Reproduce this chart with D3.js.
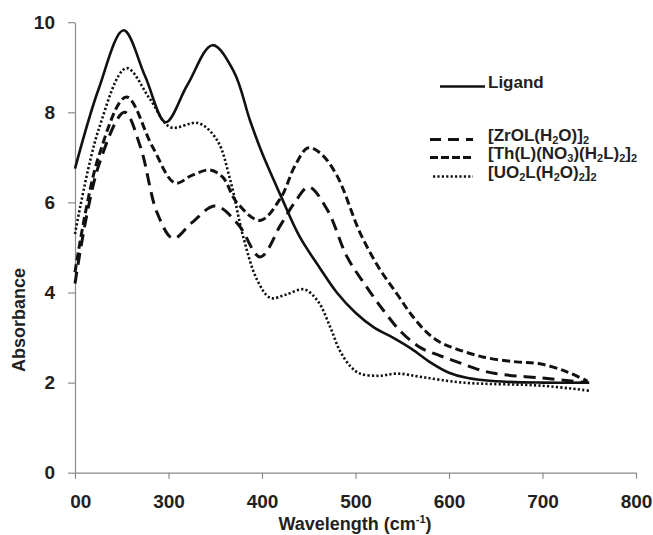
<!DOCTYPE html>
<html lang="en">
<head>
  <meta charset="UTF-8">
  <title>Absorbance spectra</title>
  <script src="https://d3js.org/d3.v7.min.js"></script>
  <style>
    * { margin: 0; padding: 0; box-sizing: border-box; }
    body { background: #fff; width: 653px; height: 535px; overflow: hidden; }
    svg { display: block; font-family: "Liberation Sans", Arial, sans-serif; }
    .tick text { font-size: 19px; font-weight: bold; fill: #231f20; }
    .axis path, .axis line { stroke: #8a8a8a; stroke-width: 1.2; }
    .lbl { font-size: 18px; font-weight: bold; fill: #231f20; }
    .leg { font-size: 17px; font-weight: bold; fill: #231f20; }
  </style>
</head>
<body>
  <svg id="chart" width="653" height="535"></svg>
  <script>
    // values (wavelength, absorbance)
    const ligandX = [200, 225, 252, 275, 297, 320, 347, 370, 387, 400, 420, 440, 462, 480, 500, 520, 540, 560, 580, 600, 620, 650, 700, 750];
    const ligandY = [6.75, 8.5, 9.82, 8.8, 7.78, 8.6, 9.49, 8.9, 7.83, 7.1, 6.15, 5.25, 4.54, 4.0, 3.55, 3.22, 3.0, 2.75, 2.45, 2.22, 2.1, 2.03, 2.0, 2.0];

    const zrX = [200, 225, 253, 270, 288, 305, 325, 350, 375, 398, 420, 435, 450, 470, 491, 512, 530, 550, 570, 590, 610, 630, 650, 700, 748];
    const zrY = [4.2, 6.8, 8.0, 7.23, 5.76, 5.2, 5.55, 5.92, 5.5, 4.79, 5.5, 6.0, 6.34, 5.83, 4.79, 4.12, 3.6, 3.1, 2.77, 2.6, 2.45, 2.3, 2.2, 2.1, 2.0];

    const thX = [200, 225, 255, 283, 307, 325, 344, 358, 373, 398, 420, 435, 449, 462, 480, 505, 525, 545, 560, 576, 590, 605, 636, 672, 697, 726, 748];
    const thY = [4.45, 7.0, 8.34, 7.23, 6.43, 6.6, 6.72, 6.56, 6.0, 5.6, 6.1, 6.8, 7.21, 7.1, 6.6, 5.32, 4.55, 3.95, 3.5, 3.12, 2.9, 2.77, 2.57, 2.46, 2.42, 2.24, 2.03];

    const uoX = [200, 225, 255, 280, 302, 332, 352, 366, 380, 395, 409, 425, 445, 460, 473, 483, 495, 505, 525, 545, 572, 615, 700, 750];
    const uoY = [5.3, 7.6, 8.98, 8.3, 7.67, 7.76, 7.38, 6.5, 5.23, 4.27, 3.88, 3.95, 4.07, 3.8, 3.23, 2.72, 2.35, 2.2, 2.15, 2.2, 2.12, 2.0, 1.93, 1.82];

    const xTicks = [200, 300, 400, 500, 600, 700, 800];
    const yTicks = [0, 2, 4, 6, 8, 10];

    const svg = d3.select("#chart");
    const plotL = 75, plotR = 636, plotT = 22.2, plotB = 472.7;

    const x = d3.scaleLinear().domain([200, 800]).range([plotL, plotR]);
    const y = d3.scaleLinear().domain([0, 10]).range([plotB, plotT]);

    // x axis, the first label is cut on the left like in the original
    svg.append("clipPath").attr("id", "xclip")
      .append("rect").attr("x", plotL - 4).attr("y", -5).attr("width", 600).attr("height", 60);

    svg.append("g")
      .attr("class", "axis")
      .attr("transform", `translate(0,${plotB})`)
      .attr("clip-path", "url(#xclip)")
      .call(d3.axisBottom(x).tickValues(xTicks).tickSize(6).tickSizeOuter(0).tickPadding(16).tickFormat(d3.format("d")));

    svg.append("g")
      .attr("class", "axis")
      .attr("transform", `translate(${plotL},0)`)
      .call(d3.axisLeft(y).tickValues(yTicks).tickSize(7).tickSizeOuter(0).tickPadding(13));

    svg.selectAll(".axis").attr("font-family", null).attr("font-size", null);

    // axis titles
    const xt = svg.append("text").attr("class", "lbl")
      .attr("x", 355).attr("y", 530).attr("text-anchor", "middle");
    xt.append("tspan").text("Wavelength (cm");
    xt.append("tspan").attr("font-size", 11).attr("dy", -7).text("-1");
    xt.append("tspan").attr("dy", 7).text(")");

    svg.append("text").attr("class", "lbl")
      .attr("transform", "translate(25,320) rotate(-90)")
      .attr("text-anchor", "middle")
      .text("Absorbance");

    // series
    const series = [
      { xs: ligandX, ys: ligandY, dash: null, w: 2.6 },
      { xs: zrX, ys: zrY, dash: "12,7", w: 3 },
      { xs: thX, ys: thY, dash: "8,4", w: 3 },
      { xs: uoX, ys: uoY, dash: "2.2,2.2", w: 2.6 }
    ];

    const line = d3.line()
      .x(d => x(d[0]))
      .y(d => y(d[1]))
      .curve(d3.curveCatmullRom.alpha(0.5));

    series.forEach(s => {
      svg.append("path")
        .datum(d3.zip(s.xs, s.ys))
        .attr("fill", "none")
        .attr("stroke", "#111")
        .attr("stroke-width", s.w)
        .attr("stroke-dasharray", s.dash)
        .attr("d", line);
    });

    // legend
    const legend = [
      { y: 88, x1: 440, x2: 485, dash: null, w: 2.6, size: 18, parts: [["Ligand", 0]] },
      { y: 141, x1: 430, x2: 473, dash: "11,7", w: 3, size: 17, parts: [["[ZrOL(H", 0], ["2", 1], ["O)]", 0], ["2", 1]] },
      { y: 159, x1: 430, x2: 473, dash: "8,3", w: 3, size: 17, parts: [["[Th(L)(NO", 0], ["3", 1], [")(H", 0], ["2", 1], ["L)", 0], ["2", 1], ["]", 0], ["2", 1]] },
      { y: 178, x1: 433, x2: 473, dash: "2.2,2.2", w: 2.6, size: 17, parts: [["[UO", 0], ["2", 1], ["L(H", 0], ["2", 1], ["O)", 0], ["2", 1], ["]", 0], ["2", 1]] }
    ];

    legend.forEach(l => {
      svg.append("line")
        .attr("x1", l.x1).attr("x2", l.x2)
        .attr("y1", l.y - 1.5).attr("y2", l.y - 1.5)
        .attr("stroke", "#111").attr("stroke-width", l.w)
        .attr("stroke-dasharray", l.dash);
      const t = svg.append("text").attr("class", "leg")
        .attr("font-size", l.size).attr("x", 488).attr("y", l.y);
      let sub = 0;
      l.parts.forEach(p => {
        const ts = t.append("tspan").text(p[0]);
        if (p[1] && !sub) { ts.attr("font-size", 11).attr("dy", 3); sub = 1; }
        else if (!p[1] && sub) { ts.attr("dy", -3); sub = 0; }
        else if (p[1]) ts.attr("font-size", 11);
      });
    });
  </script>
</body>
</html>
